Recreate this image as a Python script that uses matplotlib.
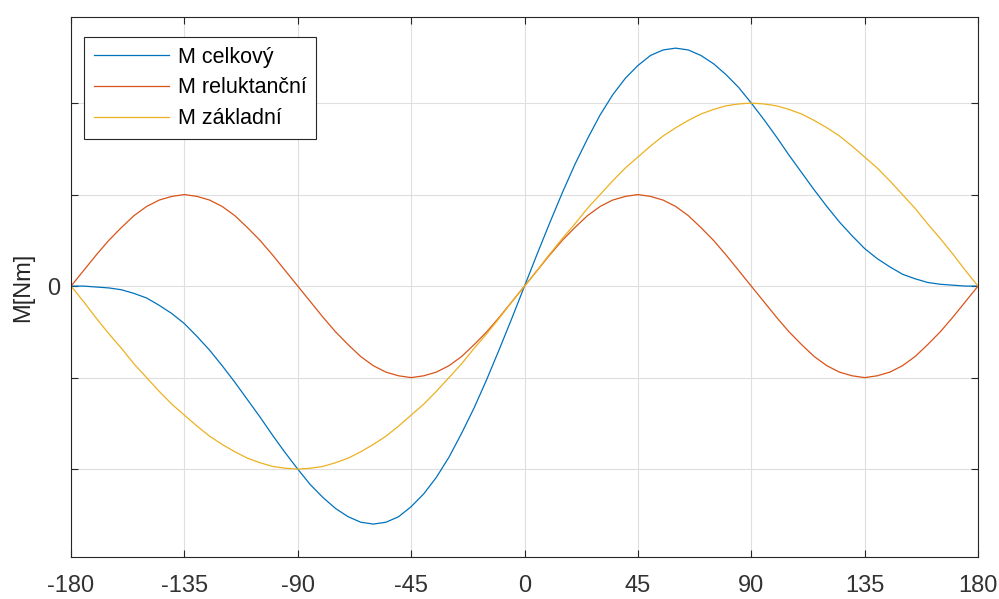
"""
Torque vs. load angle: total, reluctance and basic components
"""

import matplotlib
matplotlib.use("Agg")
import matplotlib.pyplot as plt

plt.rcParams["font.family"] = ["Liberation Sans", "DejaVu Sans"]

# load angle [deg]
angle = [-180, -175, -170, -165, -160, -155, -150, -145, -140, -135, -130, -125,
         -120, -115, -110, -105, -100, -95, -90, -85, -80, -75, -70, -65,
         -60, -55, -50, -45, -40, -35, -30, -25, -20, -15, -10, -5,
         0, 5, 10, 15, 20, 25, 30, 35, 40, 45, 50, 55,
         60, 65, 70, 75, 80, 85, 90, 95, 100, 105, 110, 115,
         120, 125, 130, 135, 140, 145, 150, 155, 160, 165, 170, 175, 180]

m_celkovy = [0.0, 0.0, -0.01, -0.02, -0.04, -0.08, -0.13, -0.21, -0.30, -0.41, -0.55, -0.70,
             -0.87, -1.05, -1.24, -1.43, -1.63, -1.82, -2.00, -2.17, -2.31, -2.43, -2.52, -2.58,
             -2.60, -2.58, -2.52, -2.41, -2.27, -2.09, -1.87, -1.61, -1.33, -1.02, -0.69, -0.35,
             0.0, 0.35, 0.69, 1.02, 1.33, 1.61, 1.87, 2.09, 2.27, 2.41, 2.52, 2.58,
             2.60, 2.58, 2.52, 2.43, 2.31, 2.17, 2.00, 1.82, 1.63, 1.43, 1.24, 1.05,
             0.87, 0.70, 0.55, 0.41, 0.30, 0.21, 0.13, 0.08, 0.04, 0.02, 0.01, 0.0, 0.0]

m_reluktancni = [0.0, 0.17, 0.34, 0.50, 0.64, 0.77, 0.87, 0.94, 0.98, 1.00, 0.98, 0.94,
                 0.87, 0.77, 0.64, 0.50, 0.34, 0.17, 0.0, -0.17, -0.34, -0.50, -0.64, -0.77,
                 -0.87, -0.94, -0.98, -1.00, -0.98, -0.94, -0.87, -0.77, -0.64, -0.50, -0.34, -0.17,
                 0.0, 0.17, 0.34, 0.50, 0.64, 0.77, 0.87, 0.94, 0.98, 1.00, 0.98, 0.94,
                 0.87, 0.77, 0.64, 0.50, 0.34, 0.17, 0.0, -0.17, -0.34, -0.50, -0.64, -0.77,
                 -0.87, -0.94, -0.98, -1.00, -0.98, -0.94, -0.87, -0.77, -0.64, -0.50, -0.34, -0.17, 0.0]

m_zakladni = [0.0, -0.17, -0.35, -0.52, -0.68, -0.85, -1.00, -1.15, -1.29, -1.41, -1.53, -1.64,
              -1.73, -1.81, -1.88, -1.93, -1.97, -1.99, -2.00, -1.99, -1.97, -1.93, -1.88, -1.81,
              -1.73, -1.64, -1.53, -1.41, -1.29, -1.15, -1.00, -0.85, -0.68, -0.52, -0.35, -0.17,
              0.0, 0.17, 0.35, 0.52, 0.68, 0.85, 1.00, 1.15, 1.29, 1.41, 1.53, 1.64,
              1.73, 1.81, 1.88, 1.93, 1.97, 1.99, 2.00, 1.99, 1.97, 1.93, 1.88, 1.81,
              1.73, 1.64, 1.53, 1.41, 1.29, 1.15, 1.00, 0.85, 0.68, 0.52, 0.35, 0.17, 0.0]

x_ticks = [-180, -135, -90, -45, 0, 45, 90, 135, 180]
y_ticks = [-2, -1, 0, 1, 2]
y_labels = ["", "", "0", "", ""]

fig = plt.figure(figsize=(9.99, 5.99), dpi=100)
ax = fig.add_axes([0.0711, 0.0701, 0.9079, 0.9015])

ax.plot(angle, m_celkovy, color="#0072BD", linewidth=0.9, label="M celkový")
ax.plot(angle, m_reluktancni, color="#D95319", linewidth=0.9, label="M reluktanční")
ax.plot(angle, m_zakladni, color="#EDB120", linewidth=0.9, label="M základní")

ax.set_xlim(-180, 180)
ax.set_ylim(-2.96, 2.94)
ax.set_xticks(x_ticks)
ax.set_xticklabels([str(t) for t in x_ticks])
ax.set_yticks(y_ticks)
ax.set_yticklabels(y_labels)

ax.grid(True, color="#dfdfdf", linewidth=0.8)
ax.set_axisbelow(True)
for side in ax.spines.values():
    side.set_color("#262626")
    side.set_linewidth(0.8)
ax.tick_params(axis="both", direction="in", top=True, right=True, length=5,
               color="#262626", labelcolor="#333333", labelsize=17)
ax.tick_params(axis="x", pad=13)
ax.tick_params(axis="y", pad=8)

ax.set_ylabel("M[Nm]", fontsize=17, color="#262626", labelpad=9)

leg = ax.legend(loc="upper left", bbox_to_anchor=(0.0143, 0.963), fontsize=15.5,
                fancybox=False, framealpha=1, edgecolor="#262626",
                handlelength=3.5, borderpad=0.45, labelspacing=0.45, handletextpad=0.4,
                borderaxespad=0.0)
leg.get_frame().set_linewidth(0.8)

fig.savefig("out.png", dpi=100)
